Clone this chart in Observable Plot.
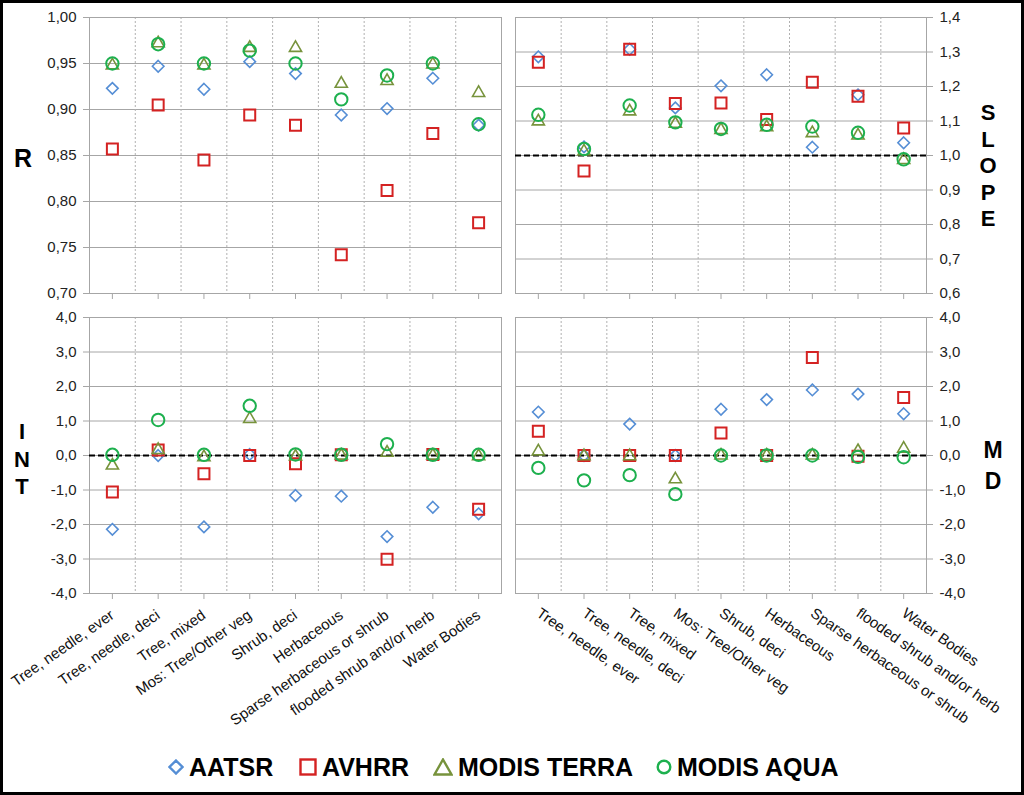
<!DOCTYPE html>
<html><head><meta charset="utf-8">
<script src="https://cdn.jsdelivr.net/npm/d3@7"></script>
<script src="https://cdn.jsdelivr.net/npm/@observablehq/plot@0.6"></script>
<style>
body{margin:0;background:#fff;font-family:"Liberation Sans",Arial,sans-serif;}
#frame{position:absolute;left:0;top:0;width:1024px;height:795px;border:3px solid #000;box-sizing:border-box;pointer-events:none;z-index:5;}
.panel{position:absolute;}
.ttl{position:absolute;font-weight:bold;color:#000;text-align:center;white-space:pre-line;width:40px;}
.leg{position:absolute;top:752px;height:30px;display:flex;align-items:center;font-weight:bold;font-size:25px;color:#000;white-space:nowrap;}
.leg svg{margin-right:5px;}
</style></head><body>
<div id="frame"></div>
<div id="root"></div>
<script>
const categories = ["Tree, needle, ever","Tree, needle, deci","Tree, mixed","Mos: Tree/Other veg","Shrub, deci","Herbaceous","Sparse herbaceous or shrub","flooded shrub and/or herb","Water Bodies"];
const seriesNames = ["AATSR","AVHRR","MODIS TERRA","MODIS AQUA"];

const R_AATSR = [0.923,0.947,0.922,0.952,0.939,0.894,0.901,0.934,0.883];
const R_AVHRR = [0.857,0.905,0.845,0.894,0.883,0.742,0.812,0.874,0.777];
const R_TERRA = [0.948,0.972,0.948,0.967,0.967,0.928,0.931,0.949,0.918];
const R_AQUA  = [0.950,0.971,0.950,0.964,0.950,0.911,0.937,0.950,0.884];

const SLOPE_AATSR = [1.286,1.025,1.308,1.138,1.202,1.234,1.024,1.176,1.037];
const SLOPE_AVHRR = [1.270,0.955,1.308,1.151,1.152,1.104,1.212,1.172,1.080];
const SLOPE_TERRA = [1.099,1.012,1.128,1.092,1.074,1.082,1.065,1.058,0.987];
const SLOPE_AQUA  = [1.118,1.019,1.145,1.096,1.077,1.089,1.084,1.066,0.989];

const INT_AATSR = [-2.14,0.00,-2.07,0.03,-1.16,-1.18,-2.35,-1.50,-1.69];
const INT_AVHRR = [-1.06,0.16,-0.53,0.00,-0.24,0.02,-3.01,0.03,-1.56];
const INT_TERRA = [-0.29,0.16,-0.05,1.06,-0.03,0.00,0.08,0.00,-0.02];
const INT_AQUA  = [0.02,1.03,0.02,1.44,0.03,0.02,0.33,0.02,0.02];

const MD_AATSR = [1.26,0.00,0.91,0.00,1.34,1.62,1.90,1.78,1.21];
const MD_AVHRR = [0.70,0.00,0.00,0.00,0.65,0.00,2.84,-0.02,1.68];
const MD_TERRA = [0.12,-0.02,-0.02,-0.69,0.00,0.00,0.00,0.13,0.20];
const MD_AQUA  = [-0.36,-0.72,-0.57,-1.12,0.00,0.00,0.00,-0.04,-0.05];

const R_TICKS = [0.70,0.75,0.80,0.85,0.90,0.95,1.00];
const SLOPE_TICKS = [0.6,0.7,0.8,0.9,1.0,1.1,1.2,1.3,1.4];
const DIFF_TICKS = [-4,-3,-2,-1,0,1,2,3,4];

const styles = [
  {symbol:"diamond2", r:5.2, color:"#558ED5", sw:1.6},
  {symbol:"square2", r:7, color:"#D42222", sw:2},
  {symbol:"triangle2", r:5.8, color:"#77933C", sw:1.6},
  {symbol:"circle", r:6.2, color:"#1DB04E", sw:2}
];

const idx = d3.range(categories.length);
const fmt2 = d => d.toFixed(2).replace(".", ",");
const fmt1 = d => d.toFixed(1).replace(".", ",");

function panel(o) {
  const marks = [
    Plot.gridY(o.ticks, {stroke:"#a6a6a6", strokeOpacity:1}),
    Plot.ruleX(d3.range(1, categories.length).map(i => i - 0.5), {stroke:"#b0b0b0", strokeDasharray:"2,2"}),
    Plot.frame({stroke:"#a6a6a6"}),
    Plot.axisY(o.ticks, {anchor:o.side, tickFormat:o.fmt, tickSize:6, tickPadding:7, stroke:"#a6a6a6", fill:"#222", fontSize:15}),
    Plot.axisX(idx, {anchor:"bottom", tickFormat: o.showX ? (i => categories[i]) : (() => ""), tickRotate:o.rotate || 0, tickSize:6, tickPadding:o.tp || 6, stroke:"#a6a6a6", fill:"#111", fontSize:15})
  ];
  if (o.ref != null) marks.push(Plot.ruleY([o.ref], {stroke:"#000", strokeWidth:2, strokeDasharray:"6,3"}));
  o.series.forEach((vals, k) => {
    const s = styles[k];
    marks.push(Plot.dot(idx, {x: i => i, y: i => vals[i], symbol: s.symbol, r: s.r, stroke: s.color, strokeWidth: s.sw, fill: "none"}));
  });
  const p = Plot.plot({
    width: 512, height: o.height,
    marginLeft: o.ml, marginRight: o.mr, marginTop: 17, marginBottom: o.mb,
    x: {domain: [-0.5, categories.length - 0.5], axis: null},
    y: {domain: o.domain, axis: null},
    style: {fontFamily: '"Liberation Sans", Arial, sans-serif', fontSize: "15px", background: "transparent", overflow: "visible"},
    marks
  });
  const wrap = document.createElement("div");
  wrap.className = "panel";
  wrap.style.left = o.left + "px";
  wrap.style.top = o.top + "px";
  wrap.appendChild(p);
  document.getElementById("root").appendChild(wrap);
}

panel({left:0, top:0, height:300, ml:89, mr:11, mb:7, ticks:R_TICKS, domain:[0.70,1.00], fmt:fmt2, side:"left", showX:false, series:[R_AATSR,R_AVHRR,R_TERRA,R_AQUA]});
panel({left:512, top:0, height:300, ml:3, mr:98, mb:7, ticks:SLOPE_TICKS, domain:[0.6,1.4], fmt:fmt1, side:"right", showX:false, ref:1, series:[SLOPE_AATSR,SLOPE_AVHRR,SLOPE_TERRA,SLOPE_AQUA]});
panel({left:0, top:300, height:440, ml:89, mr:11, mb:147, ticks:DIFF_TICKS, domain:[-4,4], fmt:fmt1, side:"left", showX:true, rotate:-35, tp:14, ref:0, series:[INT_AATSR,INT_AVHRR,INT_TERRA,INT_AQUA]});
panel({left:512, top:300, height:440, ml:3, mr:98, mb:147, ticks:DIFF_TICKS, domain:[-4,4], fmt:fmt1, side:"right", showX:true, rotate:35, tp:12, ref:0, series:[MD_AATSR,MD_AVHRR,MD_TERRA,MD_AQUA]});

// axis titles
function title(text, cx, top, size, lh) {
  const d = document.createElement("div");
  d.className = "ttl";
  d.textContent = text;
  d.style.left = (cx - 20) + "px";
  d.style.top = top + "px";
  d.style.fontSize = size + "px";
  d.style.lineHeight = lh + "px";
  document.getElementById("root").appendChild(d);
}
title("R", 23, 143, 25, 30);
title("S\nL\nO\nP\nE", 988, 100, 22, 26.5);
title("I\nN\nT", 22, 418, 22, 27.5);
title("M\nD", 993, 435, 23, 31);

// legend
const legSym = [
  '<svg width="16" height="16"><path d="M8 1.5 L14.5 8 L8 14.5 L1.5 8 Z" fill="none" stroke="#558ED5" stroke-width="2.4"/></svg>',
  '<svg width="18" height="18"><rect x="1.5" y="1.5" width="15" height="15" fill="none" stroke="#D42222" stroke-width="2.4"/></svg>',
  '<svg width="20" height="18"><path d="M10 1.5 L18.5 16.5 L1.5 16.5 Z" fill="none" stroke="#77933C" stroke-width="2.4"/></svg>',
  '<svg width="16" height="16"><circle cx="8" cy="8" r="6.3" fill="none" stroke="#1DB04E" stroke-width="2.4"/></svg>'
];
const legLeft = [168, 299, 433, 656];
seriesNames.forEach((n, k) => {
  const d = document.createElement("div");
  d.className = "leg";
  d.style.left = legLeft[k] + "px";
  d.innerHTML = legSym[k];
  const t = document.createElement("span");
  t.textContent = n;
  d.appendChild(t);
  document.getElementById("root").appendChild(d);
});
</script>
</body></html>
